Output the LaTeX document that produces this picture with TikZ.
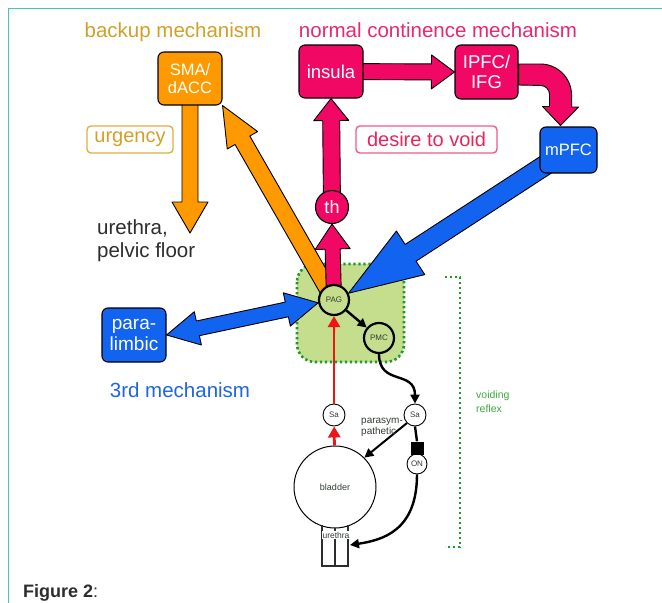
\documentclass[tikz,border=0pt]{standalone}
\usepackage{fontspec}
\setmainfont{Liberation Sans}
\usetikzlibrary{calc,arrows.meta}
\definecolor{orng}{RGB}{255,153,0}
\definecolor{pnk}{RGB}{240,8,100}
\definecolor{blu}{RGB}{18,100,240}
\definecolor{lgreen}{RGB}{196,222,142}
\definecolor{dgreen}{RGB}{30,155,40}
\definecolor{vgreen}{RGB}{60,170,60}
\definecolor{gold}{RGB}{210,160,40}
\definecolor{goldline}{RGB}{220,175,70}
\definecolor{pinktext}{RGB}{232,36,90}
\definecolor{pinkline}{RGB}{240,90,135}
\definecolor{titlepink}{RGB}{232,40,112}
\definecolor{framecol}{RGB}{64,200,180}
\definecolor{bluetext}{RGB}{30,100,230}
\definecolor{redarrow}{RGB}{240,20,20}
\definecolor{darktext}{RGB}{45,45,45}
\definecolor{smalltext}{RGB}{50,60,50}
\pgfdeclarelayer{bgzone}
\pgfdeclarelayer{fat}
\pgfsetlayers{bgzone,fat,main}

% fat single-headed arrow: start, end, shaft half width, head half width, head length, style
\newcommand\fatarrow[6]{%
 \coordinate (fa-h) at ($(#2)!#5!(#1)$);
 \filldraw[#6] ($(#1)!#3!90:(#2)$) -- ($(fa-h)!#3!90:(#2)$) -- ($(fa-h)!#4!90:(#2)$) -- (#2)
   -- ($(fa-h)!#4!-90:(#2)$) -- ($(fa-h)!#3!-90:(#2)$) -- ($(#1)!#3!-90:(#2)$) -- cycle;}
% fat double-headed arrow
\newcommand\fatdarrow[6]{%
 \coordinate (fd-a) at ($(#1)!#5!(#2)$);
 \coordinate (fd-b) at ($(#2)!#5!(#1)$);
 \filldraw[#6] (#1) -- ($(fd-a)!#4!90:(#2)$) -- ($(fd-a)!#3!90:(#2)$) -- ($(fd-b)!#3!90:(#2)$)
   -- ($(fd-b)!#4!90:(#2)$) -- (#2) -- ($(fd-b)!#4!-90:(#2)$) -- ($(fd-b)!#3!-90:(#2)$)
   -- ($(fd-a)!#3!-90:(#2)$) -- ($(fd-a)!#4!-90:(#2)$) -- cycle;}

\begin{document}
\begin{tikzpicture}[x=1pt,y=-1pt,
  regbox/.style={rounded corners=6pt, draw=black, line width=1.1pt, text=white, align=center, inner sep=0pt},
  tagbox/.style={rounded corners=4pt, line width=1.4pt, inner sep=0pt, font=\fontsize{20}{22}\selectfont},
  fatorange/.style={fill=orng, draw=black, line width=0.9pt, line join=round},
  fatpink/.style={fill=pnk, draw=black, line width=0.9pt, line join=round},
  fatblue/.style={fill=blu, draw=black, line width=0.9pt, line join=round},
  hub/.style={circle, draw=black, line width=2.2pt, fill=lgreen, inner sep=0pt, minimum size=30pt, text=smalltext, font=\fontsize{8}{9}\selectfont},
  relay/.style={circle, draw=black, line width=0.9pt, fill=white, inner sep=0pt, minimum size=22pt, text=smalltext, font=\fontsize{8}{9}\selectfont},
  redline/.style={draw=redarrow, line width=2.8pt, -{Triangle[length=11pt,width=12pt]}},
  blkline/.style={draw=black, line width=2.4pt, -{Triangle[length=9pt,width=9pt]}},
  dotline/.style={line width=2.6pt, dash pattern=on 2.4pt off 2.6pt}]
\useasboundingbox (0,0) rectangle (662,603);

% frame
\draw[framecol, line width=1.5pt] (8.5,603) -- (8.5,8.5) -- (662,8.5);

% titles
\node[anchor=base, text=gold, inner sep=0pt, font=\fontsize{20.5}{23}\selectfont] (tbackup) at (173,37) {backup mechanism};
\node[anchor=base, text=titlepink, inner sep=0pt, font=\fontsize{20.5}{23}\selectfont] (tnormal) at (438,37) {normal continence mechanism};

% boxes
\node[regbox, fill=orng, minimum width=64pt, minimum height=53pt, font=\fontsize{16.5}{18}\selectfont] (SMA) at (190,78.5) {SMA/\\dACC};
\node[regbox, fill=pnk, minimum width=64pt, minimum height=53pt, font=\fontsize{18.5}{20}\selectfont] (insula) at (331,71.5) {insula};
\node[regbox, fill=pnk, minimum width=63pt, minimum height=54pt, font=\fontsize{18.5}{20}\selectfont] (IPFC) at (486.5,72) {IPFC/\\IFG};
\node[regbox, fill=blu, minimum width=57pt, minimum height=46pt, font=\fontsize{16.5}{18}\selectfont] (mPFC) at (568.5,150) {mPFC};
\node[regbox, fill=blu, minimum width=64pt, minimum height=54pt, font=\fontsize{19}{21.5}\selectfont] (para) at (134,335) {para-\\limbic};
\node[circle, draw=black, line width=1.1pt, fill=pnk, text=white, inner sep=0pt, minimum size=33pt, font=\fontsize{18}{20}\selectfont] (th) at (332,207) {th};

% tags
\node[tagbox, draw=goldline, text=gold, minimum width=86pt, minimum height=27pt] (urg) at (130,139.5) {urgency};
\node[tagbox, draw=pinkline, text=pinktext, minimum width=141pt, minimum height=27pt] (desire) at (426.5,139.5) {desire to void};

% plain labels
\node[anchor=north west, align=left, inner sep=0pt, text=darktext, font=\fontsize{20.5}{23}\selectfont] (pelvic) at (97,219) {urethra,\\pelvic floor};
\node[anchor=base, text=bluetext, inner sep=0pt, font=\fontsize{20.5}{23}\selectfont] (third) at (180,397) {3rd mechanism};
\coordinate (uretip) at (190,233);

% reflex circuit nodes
\node[hub] (PAG) at (334,300) {PAG};
\node[hub] (PMC) at (379,338) {PMC};
\node[relay] (SaL) at (334,415) {Sa};
\node[relay] (SaR) at (415,415) {Sa};
\node[relay, minimum size=20pt] (ON) at (417,464) {ON};
\node[fill=black, inner sep=0pt, minimum size=13pt] (sq) at (417,448) {};
\node[circle, draw=black, line width=1pt, fill=white, inner sep=0pt, minimum size=82pt, text=smalltext, font=\fontsize{9}{10}\selectfont] (bladder) at (335,487) {bladder};
\coordinate (ureth) at (350,545);

% green zone
\begin{pgfonlayer}{bgzone}
\draw[dotline, fill=lgreen, draw=dgreen, rounded corners=18pt] (297,264) rectangle (404,362);
\end{pgfonlayer}

% fat arrows
\begin{pgfonlayer}{fat}
\fatarrow{SMA.center}{uretip}{8pt}{18pt}{31pt}{fatorange}
\fatarrow{PAG.center}{SMA.south east}{8.5pt}{17.5pt}{40pt}{fatorange}
\fatarrow{PAG.center}{th.south}{7.5pt}{17.5pt}{25pt}{fatpink}
\fatarrow{th.center}{insula.south}{8.5pt}{17.5pt}{22pt}{fatpink}
\fatarrow{insula.center}{IPFC.west}{8pt}{17pt}{23pt}{fatpink}
\filldraw[fatpink] ($(IPFC.east)+(0,-8)$) -- ++(22,0) .. controls +(17,0) and +(0,-17) .. ++(31,31)
   -- ++(0,12) -- ++(7,0) -- ($(mPFC.north)+(-8,-1)$) -- ++(-18,-19) -- ++(7,0) -- ++(0,-12)
   .. controls +(0,-5) and +(5,0) .. ++(-9,-9) -- ($(IPFC.east)+(0,13)$) -- cycle;
\fatarrow{mPFC.center}{PAG.25}{10pt}{26pt}{74pt}{fatblue}
\fatdarrow{para.east}{PAG.190}{7.5pt}{17pt}{32pt}{fatblue}
\end{pgfonlayer}

% thin connectors
\draw[redline] (SaL) -- (PAG);
\draw[redline] (bladder) -- (SaL);
\draw[blkline] (PAG) -- (PMC);
\draw[blkline] (PMC.south) .. controls +(0,32) and +(0,-34) .. (SaR.north);
\draw[blkline, line width=2pt] (SaR.225) -- (bladder.45);
\draw[black, line width=2.4pt] (SaR.south) -- (sq.north);
\draw[blkline] (ON.south) .. controls +(0,56) and +(33,-5) .. (ureth);

% urethra
\draw[line width=1.2pt, draw=darktext] (322,525) -- (322,566) -- (348,566) -- (348,525) (335,528) -- (335,566);
\node[fill=white, inner sep=0.8pt, text=smalltext, font=\fontsize{8.5}{9}\selectfont] (urlabel) at (336,535) {urethra};

\node[anchor=north west, align=left, inner sep=0pt, text=smalltext, font=\fontsize{10}{10.5}\selectfont] (parasym) at (361,418) {parasym-\\pathetic};

% voiding reflex bracket
\draw[dotline, draw=dgreen] (445,277) -- (460,277) -- (460,547) -- (445,547);
\node[anchor=north west, align=left, inner sep=0pt, text=vgreen, font=\fontsize{10.5}{14}\selectfont] (voiding) at (476,391) {voiding\\reflex};

% caption
\node[anchor=base west, inner sep=0pt, text=darktext, font=\fontsize{18}{20}\selectfont] (cap) at (23,597) {\textbf{Figure 2}:};
\end{tikzpicture}
\end{document}
